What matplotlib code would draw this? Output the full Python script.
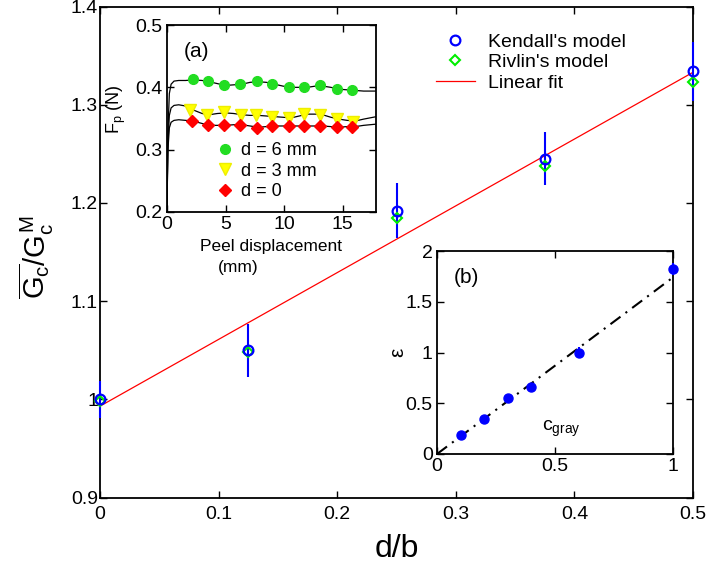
import matplotlib
matplotlib.use("Agg")
import matplotlib.pyplot as plt

plt.rcParams['font.family'] = ['Liberation Sans', 'DejaVu Sans']
plt.rcParams['mathtext.fontset'] = 'custom'
plt.rcParams['mathtext.rm'] = 'Liberation Sans'
plt.rcParams['mathtext.it'] = 'Liberation Sans'
plt.rcParams['mathtext.bf'] = 'Liberation Sans:bold'

# =====================
#   MAIN DATA
# =====================
d_over_b      = [0.0, 0.125, 0.25, 0.375, 0.5]
kendall       = [1.000, 1.050, 1.192, 1.245, 1.334]
kendall_err   = [0.019, 0.027, 0.028, 0.027, 0.030]
rivlin        = [0.998, 1.048, 1.185, 1.238, 1.323]
fit_x         = [0.0, 0.5]
fit_y         = [0.993, 1.333]
main_xticks   = [0, 0.1, 0.2, 0.3, 0.4, 0.5]
main_xlabels  = ["0", "0.1", "0.2", "0.3", "0.4", "0.5"]
main_yticks   = [0.9, 1.0, 1.1, 1.2, 1.3, 1.4]
main_ylabels  = ["0.9", "1", "1.1", "1.2", "1.3", "1.4"]

# =====================
#   INSET (a) DATA
# =====================
curve_x   = [0.0, 0.08, 0.2, 0.35, 0.6, 1.0, 1.6, 2.2, 3.0, 3.6, 4.3, 5.0, 5.7, 6.4, 7.1,
             7.8, 8.5, 9.2, 9.9, 10.6, 11.3, 12.0, 12.7, 13.3, 14.0, 14.7, 15.4, 16.1, 16.8, 17.9]
curve_d6  = [0.21, 0.33, 0.39, 0.405, 0.410, 0.411, 0.411, 0.412, 0.411, 0.409, 0.406, 0.403,
             0.404, 0.405, 0.408, 0.409, 0.408, 0.405, 0.402, 0.400, 0.400, 0.400, 0.402, 0.402,
             0.400, 0.397, 0.396, 0.395, 0.394, 0.394]
curve_d3  = [0.21, 0.31, 0.355, 0.367, 0.371, 0.372, 0.370, 0.364, 0.358, 0.356, 0.358, 0.359,
             0.358, 0.356, 0.355, 0.355, 0.354, 0.353, 0.352, 0.351, 0.354, 0.357, 0.357, 0.356,
             0.352, 0.349, 0.347, 0.346, 0.349, 0.353]
curve_d0  = [0.21, 0.30, 0.335, 0.344, 0.347, 0.348, 0.347, 0.346, 0.342, 0.339, 0.339, 0.339,
             0.340, 0.340, 0.338, 0.336, 0.337, 0.338, 0.338, 0.338, 0.338, 0.338, 0.338, 0.338,
             0.337, 0.336, 0.337, 0.337, 0.339, 0.341]
mark_x_d6 = [2.2, 3.5, 4.9, 6.2, 7.7, 9.0, 10.4, 11.7, 13.1, 14.5, 15.8]
mark_y_d6 = [0.413, 0.410, 0.403, 0.405, 0.410, 0.406, 0.400, 0.400, 0.403, 0.397, 0.395]
mark_x_d3 = [2.0, 3.4, 4.9, 6.3, 7.6, 9.0, 10.4, 11.7, 13.1, 14.5, 15.9]
mark_y_d3 = [0.364, 0.356, 0.360, 0.356, 0.355, 0.353, 0.351, 0.357, 0.356, 0.349, 0.344]
mark_x_d0 = [2.1, 3.5, 4.9, 6.2, 7.7, 9.0, 10.4, 11.7, 13.1, 14.5, 15.8]
mark_y_d0 = [0.346, 0.339, 0.339, 0.340, 0.335, 0.338, 0.338, 0.338, 0.338, 0.336, 0.337]
a_xticks  = [0, 5, 10, 15]
a_yticks  = [0.2, 0.3, 0.4, 0.5]
a_ylabels = ["0.2", "0.3", "0.4", "0.5"]

# =====================
#   INSET (b) DATA
# =====================
c_gray    = [0.1, 0.2, 0.3, 0.4, 0.6, 1.0]
eps       = [0.19, 0.34, 0.55, 0.66, 1.0, 1.82]
eps_err   = [0.02, 0.02, 0.03, 0.04, 0.05, 0.06]
b_fit_x   = [0.0, 1.0]
b_fit_y   = [0.0, 1.74]
b_xticks  = [0, 0.5, 1]
b_xlabels = ["0", "0.5", "1"]
b_yticks  = [0, 0.5, 1, 1.5, 2]
b_ylabels = ["0", "0.5", "1", "1.5", "2"]

W, H = 708, 569
fig = plt.figure(figsize=(W / 100, H / 100), dpi=100)


def frac(left, top, right, bottom):
    return [left / W, 1 - bottom / H, (right - left) / W, (bottom - top) / H]


def style(ax, size, xpad=3, ypad=3):
    ax.tick_params(direction='in', top=True, right=True, length=5, width=1,
                   labelsize=size)
    ax.tick_params(axis='x', pad=xpad)
    ax.tick_params(axis='y', pad=ypad)
    for s in ax.spines.values():
        s.set_linewidth(1.3)


# ----- main axes -----
ax = fig.add_axes(frac(100, 6.5, 693, 497.5))
ax.plot(fit_x, fit_y, color='red', lw=0.9, label='Linear fit', zorder=2)
ax.errorbar(d_over_b, kendall, yerr=kendall_err, fmt='none', ecolor='blue',
            elinewidth=1.5, capsize=0, zorder=3, clip_on=False)
ax.plot(d_over_b, rivlin, 'D', mfc='none', mec='#00ee00', ms=5.5, mew=1.5,
        label="Rivlin's model", zorder=4, clip_on=False)
ax.plot(d_over_b, kendall, 'o', mfc='none', mec='blue', ms=7, mew=1.6,
        label="Kendall's model", zorder=5, clip_on=False)
ax.set_xlim(0, 0.5)
ax.set_ylim(0.9, 1.4)
ax.set_xticks(main_xticks)
ax.set_xticklabels(main_xlabels)
ax.set_yticks(main_yticks)
ax.set_yticklabels(main_ylabels)
style(ax, 14, xpad=6, ypad=1.5)
ax.set_xlabel('d/b', fontsize=23, va='center')
ax.xaxis.set_label_coords(0.5, -0.105)
ax.set_ylabel(r'$\overline{G_c}/G_c^M$', fontsize=21, va='center')
ax.yaxis.set_label_coords(-0.108, 0.49)

h, l = ax.get_legend_handles_labels()
order = [2, 1, 0]
ax.legend([h[i] for i in order], [l[i] for i in order], frameon=False,
          fontsize=14, loc='upper left', bbox_to_anchor=(436 / W, 1 - 33 / H),
          bbox_transform=fig.transFigure, borderpad=0, borderaxespad=0,
          handlelength=2.0, handletextpad=0.7, labelspacing=0.15)

# ----- inset (a) -----
axa = fig.add_axes(frac(167, 25, 376, 212))
for cy in (curve_d6, curve_d3, curve_d0):
    axa.plot(curve_x, cy, color='black', lw=0.9, zorder=2)
axa.plot(mark_x_d6, mark_y_d6, 'o', color='#22dd22', ms=7, mec='#22dd22',
         label='d = 6 mm', zorder=3)
axa.plot(mark_x_d3, mark_y_d3, 'v', color='#ffff00', ms=8, mec='#eeee00',
         label='d = 3 mm', zorder=3)
axa.plot(mark_x_d0, mark_y_d0, 'D', color='red', ms=6, mec='red',
         label='d = 0', zorder=3)
axa.set_xlim(0, 17.86)
axa.set_ylim(0.2, 0.5)
axa.set_xticks(a_xticks)
axa.set_yticks(a_yticks)
axa.set_yticklabels(a_ylabels)
style(axa, 14)
axa.set_ylabel(r'F$_{\mathrm{p}}$ (N)', fontsize=13, va='center')
axa.yaxis.set_label_coords(-0.24, 0.55)
axa.text(2.5, 0.457, '(a)', fontsize=15, ha='center', va='center')
axa.legend(frameon=False, fontsize=13, loc='upper left',
           bbox_to_anchor=(216 / W, 1 - 142 / H), bbox_transform=fig.transFigure,
           borderpad=0, borderaxespad=0, handlelength=1.0, handletextpad=0.4,
           labelspacing=0.2)
fig.text(271.5 / W, 1 - 247 / H, 'Peel displacement', fontsize=12.5,
         ha='center', va='center')
fig.text(238 / W, 1 - 267 / H, '(mm)', fontsize=12.5, ha='center', va='center')

# ----- inset (b) -----
axb = fig.add_axes(frac(437, 251, 673, 454))
axb.plot(b_fit_x, b_fit_y, color='black', lw=1.5, ls=(0, (6, 3, 1, 3)), zorder=2)
axb.errorbar(c_gray, eps, yerr=eps_err, fmt='o', color='blue', ms=6.5,
             elinewidth=1.5, capsize=0, zorder=3, clip_on=False)
axb.set_xlim(0, 1)
axb.set_ylim(0, 2)
axb.set_xticks(b_xticks)
axb.set_xticklabels(b_xlabels)
axb.set_yticks(b_yticks)
axb.set_yticklabels(b_ylabels)
style(axb, 14)
axb.set_ylabel('ε', fontsize=15, va='center')
axb.yaxis.set_label_coords(-0.165, 0.5)
axb.text(0.124, 1.74, '(b)', fontsize=15, ha='center', va='center')
axb.text(0.445, 0.25, r'c$_{\mathrm{gray}}$', fontsize=14, ha='left', va='center')

fig.savefig('out.png', dpi=100)
